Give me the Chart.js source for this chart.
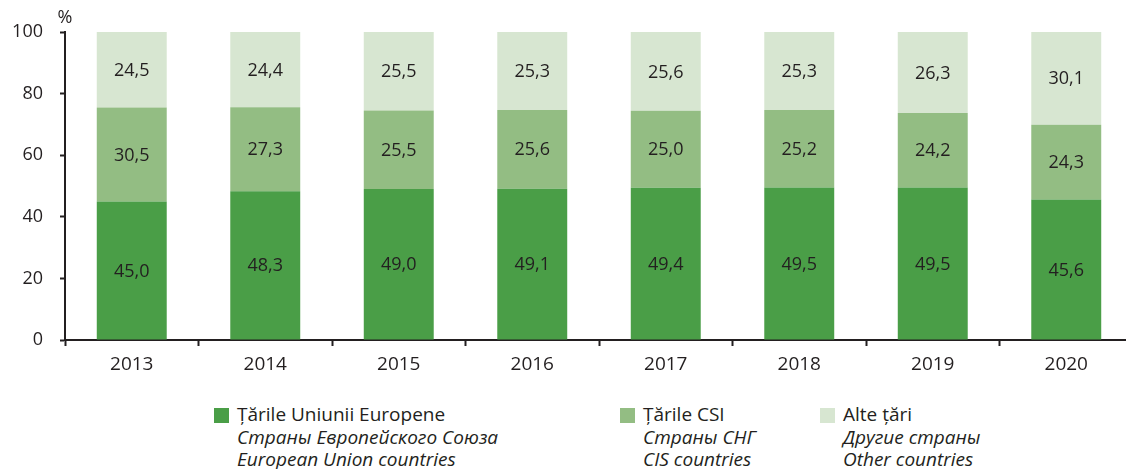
<!DOCTYPE html>
<html>
<head>
<meta charset="utf-8">
<script src="https://cdn.jsdelivr.net/npm/chart.js@4"></script>
<style>
  html, body { margin: 0; padding: 0; background: #fff; overflow: hidden; }
  #wrap { position: relative; width: 1133px; height: 469px; }
  #box { position: absolute; left: 0; top: 0; width: 1133px; height: 390px; }
  .leg { position: absolute; top: 403px; font-family: "Open Sans", sans-serif; font-size: 19px; color: #231f20; line-height: 22.5px; white-space: nowrap; }
  .leg .sq { position: absolute; left: -23px; top: 5px; width: 15px; height: 15px; }
  .leg i { display: block; }
</style>
</head>
<body>
<div id="wrap">
  <div id="box"><canvas id="chart"></canvas></div>
  <div class="leg" style="left:237px"><span class="sq" style="background:#4a9e47"></span>Țările Uniunii Europene<i>Страны Европейского Союза</i><i>European Union countries</i></div>
  <div class="leg" style="left:643px"><span class="sq" style="background:#93bd83"></span>Țările CSI<i>Страны СНГ</i><i>CIS countries</i></div>
  <div class="leg" style="left:843px"><span class="sq" style="background:#d7e6d1"></span>Alte țări<i>Другие страны</i><i>Other countries</i></div>
</div>
<script>
// years and shares (%)
const years = ['2013', '2014', '2015', '2016', '2017', '2018', '2019', '2020'];
const euShare = [45.0, 48.3, 49.0, 49.1, 49.4, 49.5, 49.5, 45.6];
const cisShare = [30.5, 27.3, 25.5, 25.6, 25.0, 25.2, 24.2, 24.3];
const otherShare = [24.5, 24.4, 25.5, 25.3, 25.6, 25.3, 26.3, 30.1];
const yTicks = [0, 20, 40, 60, 80, 100];

const ink = '#231f20';
const font = 'Open Sans';

// numbers in the middle of each segment, with decimal comma
const valueLabels = {
    id: 'valueLabels',
    afterDatasetsDraw(chart) {
        const ctx = chart.ctx;
        ctx.save();
        ctx.fillStyle = ink;
        ctx.font = '18px "' + font + '"';
        ctx.textAlign = 'center';
        ctx.textBaseline = 'middle';
        chart.data.datasets.forEach((ds, i) => {
            chart.getDatasetMeta(i).data.forEach((bar, j) => {
                const txt = ds.data[j].toFixed(1).replace('.', ',');
                ctx.fillText(txt, bar.x, (bar.y + bar.base) / 2 + 1);
            });
        });
        // unit over the y axis
        const a = chart.chartArea;
        ctx.fillText('%', a.left, a.top - 14);
        ctx.restore();
    }
};

new Chart(document.getElementById('chart').getContext('2d'), {
    type: 'bar',
    data: {
        labels: years,
        datasets: [
            { label: 'EU', data: euShare, backgroundColor: '#4a9e47' },
            { label: 'CIS', data: cisShare, backgroundColor: '#93bd83' },
            { label: 'Other', data: otherShare, backgroundColor: '#d7e6d1' }
        ]
    },
    options: {
        responsive: true,
        maintainAspectRatio: false,
        animation: false,
        layout: { padding: { top: 32, right: 0, bottom: 0, left: 0 } },
        datasets: { bar: { barPercentage: 0.524, categoryPercentage: 1 } },
        plugins: { legend: { display: false }, tooltip: { enabled: false } },
        scales: {
            x: {
                stacked: true,
                afterFit: s => { s.height = 50; },
                border: { color: ink, width: 2 },
                grid: { drawOnChartArea: false, tickLength: 6, color: ink, tickWidth: 2, offset: true },
                ticks: { color: ink, padding: 7, font: { family: font, size: 19 } }
            },
            y: {
                stacked: true,
                min: 0,
                max: 100,
                afterFit: s => { s.width = 65; },
                afterBuildTicks: s => { s.ticks = yTicks.map(v => ({ value: v })); },
                border: { color: ink, width: 2 },
                grid: { drawOnChartArea: false, tickLength: 5, color: ink, tickWidth: 2 },
                ticks: { color: ink, padding: 17, font: { family: font, size: 18 } }
            }
        }
    },
    plugins: [valueLabels]
});
</script>
</body>
</html>
